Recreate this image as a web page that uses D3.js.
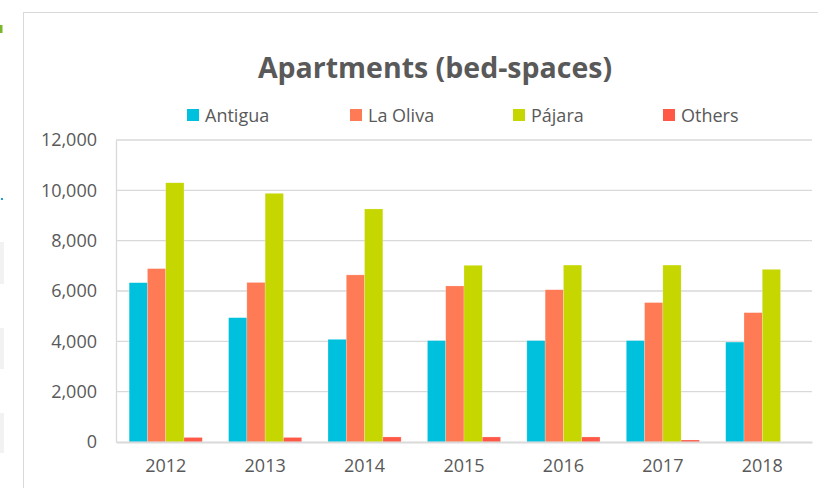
<!DOCTYPE html>
<html>
<head>
<meta charset="utf-8">
<script src="https://cdn.jsdelivr.net/npm/d3@7"></script>
<style>
  body { margin: 0; background: #fff; }
  svg { display: block; font-family: "Open Sans", sans-serif; }
</style>
</head>
<body>
<svg width="818" height="488"></svg>
<script>
// Data
const years = ["2012", "2013", "2014", "2015", "2016", "2017", "2018"];
const series = ["Antigua", "La Oliva", "Pájara", "Others"];
const antigua = [6330, 4940, 4080, 4030, 4030, 4030, 3970];
const laOliva = [6890, 6340, 6640, 6200, 6050, 5540, 5140];
const pajara = [10300, 9880, 9260, 7020, 7030, 7030, 6860];
const others = [180, 180, 200, 200, 200, 80, 0];
const yTicks = [0, 2000, 4000, 6000, 8000, 10000, 12000];

const values = [antigua, laOliva, pajara, others];
const colors = ["#00c1dd", "#ff7b55", "#c5d600", "#ff5846"];

const svg = d3.select("svg");

// leftover bits of the surrounding page
svg.append("rect").attr("x", 0).attr("y", 25).attr("width", 2.5).attr("height", 8).attr("fill", "#7ab829");
svg.append("rect").attr("x", 1).attr("y", 198).attr("width", 2).attr("height", 2).attr("fill", "#1aa0d8");
[[242, 284], [328, 369], [413, 453]].forEach(([a, b]) =>
  svg.append("rect").attr("x", 0).attr("y", a).attr("width", 4).attr("height", b - a).attr("fill", "#f2f2f2"));

// chart frame
svg.append("rect")
  .attr("x", 23.5).attr("y", 12.5).attr("width", 900).attr("height", 600)
  .attr("fill", "#fff").attr("stroke", "#d9d9d9");

// Title
svg.append("text")
  .attr("x", 435).attr("y", 78)
  .attr("text-anchor", "middle")
  .attr("font-size", 28.5).attr("font-weight", 700)
  .attr("fill", "#595959")
  .text("Apartments (bed-spaces)");

// Scales
const x0 = d3.scaleBand().domain(years).range([116, 812]);
const x1 = d3.scaleBand().domain(series).range([0, x0.bandwidth()]).paddingOuter(0.72);
const y = d3.scaleLinear().domain([0, 12000]).range([442, 140]);

// Gridlines
svg.append("g")
  .selectAll("line")
  .data(yTicks.slice(1))
  .join("line")
  .attr("x1", 116).attr("x2", 812)
  .attr("y1", d => y(d)).attr("y2", d => y(d))
  .attr("stroke", "#d9d9d9").attr("stroke-width", 1.3);

// y axis
const yAxis = svg.append("g")
  .attr("transform", "translate(116,0)")
  .call(d3.axisLeft(y).tickValues(yTicks).tickSize(0).tickPadding(19).tickFormat(d3.format(",")));
yAxis.select(".domain").attr("stroke", "#d9d9d9").attr("stroke-width", 1.3);
yAxis.selectAll("text").attr("font-size", 18).attr("fill", "#595959").attr("font-family", "Open Sans");

// Bars
const groups = svg.append("g")
  .selectAll("g")
  .data(years)
  .join("g")
  .attr("transform", d => `translate(${x0(d)},0)`);

groups.selectAll("rect")
  .data((yr, i) => series.map((s, j) => ({ s, j, v: values[j][i] })))
  .join("rect")
  .attr("x", d => x1(d.s))
  .attr("width", x1.bandwidth())
  .attr("y", d => y(d.v))
  .attr("height", d => y(0) - y(d.v))
  .attr("fill", d => colors[d.j])
  .attr("stroke", "#fff").attr("stroke-opacity", 0.35).attr("stroke-width", 0.6);

// x axis
const xAxis = svg.append("g")
  .attr("transform", "translate(0,442)")
  .call(d3.axisBottom(x0).tickSize(0).tickPadding(17));
xAxis.select(".domain").attr("stroke", "#d9d9d9").attr("stroke-width", 2);
xAxis.selectAll("text").attr("font-size", 18).attr("fill", "#595959").attr("font-family", "Open Sans");

// Legend
const legendX = [187, 350, 513, 663];
const legend = svg.append("g")
  .selectAll("g")
  .data(series)
  .join("g")
  .attr("transform", (d, i) => `translate(${legendX[i]},109)`);
legend.append("rect").attr("width", 12).attr("height", 12).attr("fill", (d, i) => colors[i]);
legend.append("text")
  .attr("x", 18).attr("y", 12.5)
  .attr("font-size", 18).attr("fill", "#595959")
  .text(d => d);
</script>
</body>
</html>
